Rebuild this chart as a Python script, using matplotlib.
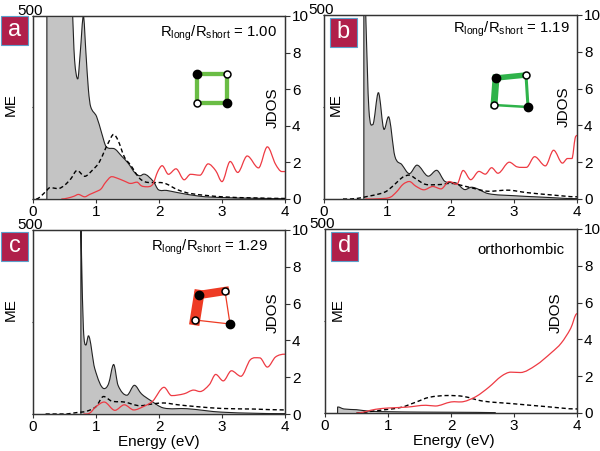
import matplotlib
matplotlib.use("Agg")
import matplotlib.pyplot as plt
from matplotlib.patches import Rectangle, PathPatch
from matplotlib.path import Path

plt.rcParams['font.family'] = ['Liberation Sans', 'DejaVu Sans']
plt.rcParams['mathtext.fontset'] = 'custom'
plt.rcParams['mathtext.rm'] = 'Liberation Sans'
plt.rcParams['mathtext.default'] = 'regular'

W, H = 600, 451

# panel a
grey_a_x = [0.22, 0.22, 0.62, 0.66, 0.71, 0.75, 0.8, 0.84, 0.88, 0.915, 1.01, 1.09, 1.16, 1.3, 1.41, 1.51, 1.62, 1.7, 1.76, 1.91, 1.99, 2.12, 2.28, 2.65, 3, 3.5, 4]
grey_a_y = [0, 16, 10.4, 7.6, 6.56, 8, 10, 8, 5.96, 5.05, 4.5, 3.6, 2.87, 2.73, 2.33, 1.96, 1.42, 1.27, 1.36, 0.96, 0.51, 0.47, 0.36, 0.15, 0.08, 0.04, 0.02]
dash_a_x = [0.05, 0.1, 0.2, 0.27, 0.4, 0.5, 0.6, 0.7, 0.82, 0.95, 1.05, 1.15, 1.2, 1.28, 1.35, 1.45, 1.55, 1.7, 1.85, 2.0, 2.1, 2.3, 2.5, 3, 3.5, 4]
dash_a_y = [0, 0.08, 0.4, 0.62, 0.57, 0.75, 1.1, 1.56, 1.24, 1.6, 2.0, 2.75, 3.1, 3.53, 3.2, 2.3, 1.85, 1.1, 0.9, 0.9, 0.85, 0.5, 0.3, 0.12, 0.06, 0.03]
red_a_x = [0.45, 0.55, 0.65, 0.72, 0.82, 0.9, 1, 1.08, 1.15, 1.25, 1.35, 1.45, 1.55, 1.65, 1.72, 1.8, 1.9, 1.98, 2.05, 2.15, 2.27, 2.4, 2.5, 2.65, 2.78, 2.9, 3, 3.13, 3.25, 3.4, 3.58, 3.72, 3.85, 3.95, 4]
red_a_y = [0, 0.05, 0.15, 0.25, 0.12, 0.25, 0.4, 0.55, 0.9, 1.22, 1.12, 0.98, 0.85, 0.92, 0.72, 0.67, 0.8, 1.5, 1.82, 1.35, 1.65, 1.05, 1.35, 1.3, 1.92, 1.55, 0.95, 2.05, 1.45, 2.35, 1.7, 2.85, 1.9, 1.5, 1.5]

# panel b
grey_b_x = [0.63, 0.63, 0.66, 0.71, 0.77, 0.86, 0.95, 1.02, 1.12, 1.23, 1.35, 1.47, 1.65, 1.78, 1.91, 2.09, 2.23, 2.33, 2.6, 3, 3.4, 4]
grey_b_y = [0, 14, 10, 4.87, 4.04, 5.78, 3.78, 4.47, 2.33, 1.87, 1.38, 1.84, 1.24, 1.56, 0.96, 0.87, 0.51, 0.64, 0.29, 0.18, 0.11, 0.02]
dash_b_x = [0.3, 0.5, 0.7, 0.9, 1, 1.15, 1.25, 1.35, 1.45, 1.6, 1.8, 2, 2.2, 2.4, 2.6, 2.9, 3.2, 3.6, 4]
dash_b_y = [0, 0.02, 0.15, 0.3, 0.45, 0.9, 1.2, 1.3, 1.1, 0.8, 0.78, 0.85, 0.72, 0.55, 0.42, 0.48, 0.35, 0.22, 0.12]
red_b_x = [0.65, 0.9, 1.05, 1.15, 1.25, 1.35, 1.45, 1.58, 1.72, 1.85, 1.98, 2.1, 2.2, 2.32, 2.45, 2.55, 2.65, 2.75, 2.93, 3.05, 3.2, 3.33, 3.5, 3.63, 3.77, 3.85, 3.92, 3.97, 4]
red_b_y = [0, 0.02, 0.1, 0.4, 0.8, 0.95, 0.7, 0.5, 0.68, 0.55, 0.95, 0.8, 1.55, 1.05, 1.5, 1.35, 1.7, 1.4, 2.0, 1.75, 1.72, 2.3, 1.8, 2.65, 1.95, 2.2, 2.2, 3.3, 3.45]

# panel c
grey_c_x = [0.76, 0.76, 0.77, 0.8, 0.84, 0.88, 0.98, 1.13, 1.2, 1.28, 1.35, 1.49, 1.61, 1.72, 1.86, 2.07, 2.44, 3, 4]
grey_c_y = [0, 10.5, 8.65, 4.65, 3.75, 4.25, 2.47, 1.38, 1.65, 2.69, 1.56, 1.02, 1.56, 1.1, 0.75, 0.33, 0.29, 0.1, 0.02]
dash_c_x = [0.2, 0.5, 0.7, 0.85, 1, 1.12, 1.25, 1.45, 1.7, 1.9, 2.07, 2.3, 2.6, 3, 3.5, 4]
dash_c_y = [0, 0, 0.08, 0.15, 0.4, 0.95, 0.7, 0.65, 0.45, 0.55, 0.6, 0.5, 0.4, 0.3, 0.27, 0.22]
red_c_x = [0.8, 0.9, 1, 1.13, 1.3, 1.45, 1.6, 1.75, 1.9, 2.08, 2.2, 2.4, 2.55, 2.65, 2.8, 2.9, 3.02, 3.15, 3.3, 3.45, 3.6, 3.72, 3.85, 4]
red_c_y = [0, 0.05, 0.4, 0.65, 0.2, 0.5, 0.22, 0.4, 0.7, 1.45, 1.0, 1.1, 1.3, 1.22, 1.6, 2.15, 1.8, 2.35, 2.05, 2.95, 3.05, 2.55, 3.1, 3.25]

# panel d
grey_d_x = [0.2, 0.2, 0.3, 0.5, 0.7, 1, 1.5, 2.1, 2.7, 2.71]
grey_d_y = [0, 0.33, 0.22, 0.18, 0.1, 0.07, 0.05, 0.04, 0.02, 0]
dash_d_x = [0.5, 0.8, 1.2, 1.45, 1.65, 1.95, 2.2, 2.5, 3, 3.5, 4]
dash_d_y = [0, 0.12, 0.3, 0.6, 0.85, 0.95, 0.9, 0.65, 0.5, 0.35, 0.22]
red_d_x = [0.5, 0.8, 1.0, 1.3, 1.6, 1.75, 2, 2.2, 2.4, 2.6, 2.8, 2.95, 3.1, 3.35, 3.6, 3.75, 3.9, 4]
red_d_y = [0, 0.2, 0.27, 0.32, 0.42, 0.38, 0.6, 0.62, 0.9, 1.4, 2.0, 2.22, 2.2, 2.6, 3.3, 3.8, 4.6, 5.4]

panels = [
    dict(box=(33, 285, 16, 199), grey=(grey_a_x, grey_a_y), dash=(dash_a_x, dash_a_y), red=(red_a_x, red_a_y),
         tag='a', tagbox=(1, 16), title=r'$R_{long}/R_{short}$ = 1.00', title_xy=(277, 33),
         me=(11, 105), jdos=(273, 108), xlabel=None),
    dict(box=(324, 577, 15, 199), grey=(grey_b_x, grey_b_y), dash=(dash_b_x, dash_b_y), red=(red_b_x, red_b_y),
         tag='b', tagbox=(330, 18), title=r'$R_{long}/R_{short}$ = 1.19', title_xy=(570, 29),
         me=(336, 105), jdos=(564, 107), xlabel=None),
    dict(box=(33, 285, 230, 414), grey=(grey_c_x, grey_c_y), dash=(dash_c_x, dash_c_y), red=(red_c_x, red_c_y),
         tag='c', tagbox=(1, 232), title=r'$R_{long}/R_{short}$ = 1.29', title_xy=(268, 247),
         me=(11, 310), jdos=(273, 313), xlabel=(159, 442)),
    dict(box=(325, 577, 229, 413), grey=(grey_d_x, grey_d_y), dash=(dash_d_x, dash_d_y), red=(red_d_x, red_d_y),
         tag='d', tagbox=(331, 232), title='orthorhombic', title_xy=(565, 250),
         me=(338, 310), jdos=(556, 313), xlabel=(454, 441)),
]

# little plaquettes: node pixels and bond widths (top, right, bottom, left)
plaq_a = [(197, 74), (227, 74), (227, 103), (197, 103)]
plaq_b = [(496, 78), (526, 75), (528, 107), (494, 105)]
plaq_c = [(199, 295), (225, 291), (230, 324), (195, 320)]
plaq_widths = [[3.1, 3.1, 3.1, 3.1], [4, 2.2, 1.8, 5], [6, 0.9, 0.9, 7.5]]
plaq_colors = ['#6abd45', '#2fb34a', '#ee3b24']


def smooth_path(xs, ys, start=1, baseline=False):
    # bezier through the read points, flat tangent at bumps so peaks stay where they were read
    n = len(xs)
    slopes = []
    for i in range(n):
        if i == 0 or i == n - 1 or i < start:
            slopes.append(0.0)
        elif (ys[i] - ys[i - 1]) * (ys[i + 1] - ys[i]) <= 0:
            slopes.append(0.0)
        else:
            slopes.append((ys[i + 1] - ys[i - 1]) / (xs[i + 1] - xs[i - 1]))
    verts = [(xs[0], ys[0])]
    codes = [Path.MOVETO]
    for i in range(n - 1):
        dx = xs[i + 1] - xs[i]
        if dx == 0:
            verts.append((xs[i + 1], ys[i + 1]))
            codes.append(Path.LINETO)
            continue
        verts += [(xs[i] + dx / 3, ys[i] + slopes[i] * dx / 3),
                  (xs[i + 1] - dx / 3, ys[i + 1] - slopes[i + 1] * dx / 3),
                  (xs[i + 1], ys[i + 1])]
        codes += [Path.CURVE4] * 3
    if baseline:
        verts += [(xs[-1], 0), (xs[0], 0)]
        codes += [Path.LINETO, Path.LINETO]
    return Path(verts, codes)


fig = plt.figure(figsize=(6, 4.51), dpi=100)
edge = '#333333'

for p in panels:
    x0, x1, y0, y1 = p['box']
    ax = fig.add_axes([x0 / W, 1 - y1 / H, (x1 - x0) / W, (y1 - y0) / H])
    ax.set_xlim(0, 4)
    ax.set_ylim(0, 500)
    ax.set_xticks([0, 1, 2, 3, 4])
    ax.set_yticks([0, 250, 500])
    ax.set_yticklabels([])
    ax.tick_params(axis='x', labelsize=11, length=3, width=0.8, pad=1.5, color=edge)
    ax.tick_params(axis='y', length=1, width=0.8, color=edge)
    ax.annotate('500', (0, 500), xytext=(-2, 1), textcoords='offset points',
                ha='center', va='baseline', fontsize=11, annotation_clip=False)

    axr = ax.twinx()
    axr.set_ylim(0, 10)
    axr.set_yticks([0, 2, 4, 6, 8, 10])
    axr.tick_params(axis='y', labelsize=11, length=3.5, width=0.8, pad=1.5, color=edge)
    for a in (ax, axr):
        for s in a.spines.values():
            s.set_color(edge)
            s.set_linewidth(0.9)

    gx, gy = p['grey']
    axr.add_patch(PathPatch(smooth_path(gx, gy, start=2, baseline=True), facecolor='#c4c4c4', lw=0))
    axr.add_patch(PathPatch(smooth_path(gx, gy, start=2), facecolor='none', edgecolor='#222222', lw=0.8))
    axr.add_patch(PathPatch(smooth_path(p['dash'][0], p['dash'][1]), facecolor='none', edgecolor='black',
                            lw=1, ls=(0, (3, 2))))
    axr.add_patch(PathPatch(smooth_path(p['red'][0], p['red'][1]), facecolor='none', edgecolor='#ee3a43', lw=0.9))

# overlay in pixel coordinates for tags, labels and insets
ov = fig.add_axes([0, 0, 1, 1], facecolor='none')
ov.set_xlim(0, W)
ov.set_ylim(H, 0)
ov.axis('off')

for p in panels:
    tx, ty = p['tagbox']
    ov.add_patch(Rectangle((tx, ty), 27, 28.5, facecolor='#b01f4a', edgecolor='#5b9fcb', lw=0.8))
    ov.text(tx + 13.5, ty + 14, p['tag'], color='white', fontsize=17, ha='center', va='center')
    ov.text(p['title_xy'][0], p['title_xy'][1], p['title'], fontsize=10.7, ha='right', va='center')
    ov.text(p['me'][0], p['me'][1], 'ME', fontsize=11, rotation=90, ha='center', va='center')
    ov.text(p['jdos'][0], p['jdos'][1], 'JDOS', fontsize=11, rotation=90, ha='center', va='center')
    if p['xlabel']:
        ov.text(p['xlabel'][0], p['xlabel'][1], 'Energy (eV)', fontsize=11, ha='center', va='center')

for nodes, widths, col in zip([plaq_a, plaq_b, plaq_c], plaq_widths, plaq_colors):
    for i in range(4):
        n0, n1 = nodes[i], nodes[(i + 1) % 4]
        ov.plot([n0[0], n1[0]], [n0[1], n1[1]], color=col, lw=widths[i], solid_capstyle='projecting', zorder=3)
    ov.plot([nodes[0][0], nodes[2][0]], [nodes[0][1], nodes[2][1]], ls='none', marker='o', ms=6,
            mfc='black', mec='black', zorder=4)
    ov.plot([nodes[1][0], nodes[3][0]], [nodes[1][1], nodes[3][1]], ls='none', marker='o', ms=5,
            mfc='white', mec='black', mew=1.1, zorder=4)

fig.savefig('out.png', dpi=100)
